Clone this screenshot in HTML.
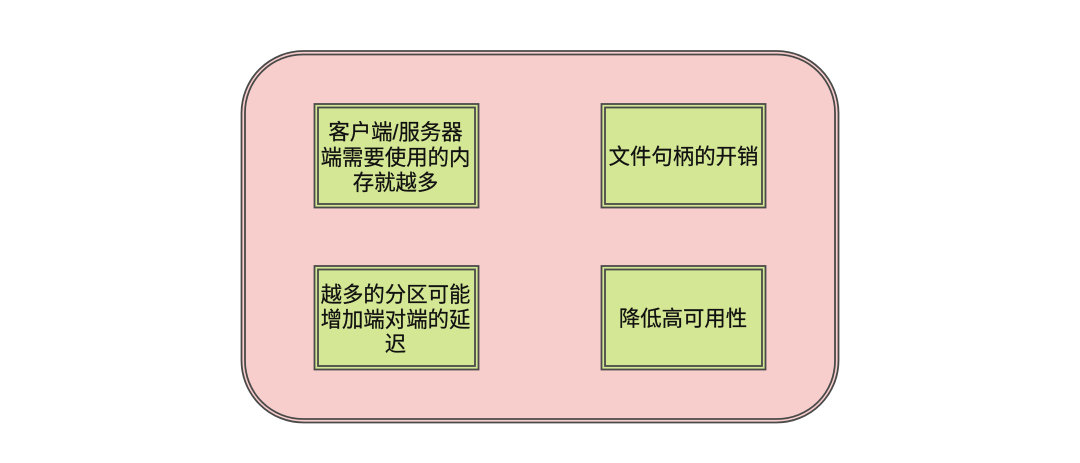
<!DOCTYPE html>
<html><head><meta charset="utf-8"><style>
html,body{margin:0;padding:0;background:#fff}
svg{display:block}
text{font-family:"Liberation Sans","Noto Sans CJK SC",sans-serif;font-size:21.4px;fill:#111;stroke:#111;stroke-width:.25;text-anchor:middle}
.o{fill:#f8cecc;stroke:#4a4a4a;stroke-width:1.8}
.i{fill:none;stroke:#4a4a4a;stroke-width:1.8}
.b{fill:#d4e795;stroke:#4a4a4a;stroke-width:1.8}
</style></head><body>
<svg width="1080" height="463" viewBox="0 0 1080 463" xmlns="http://www.w3.org/2000/svg">
<rect class="o" x="241.5" y="51" width="597" height="371.500" rx="62" ry="62"/>
<rect class="i" x="245" y="54.500" width="590" height="364.500" rx="58" ry="58"/>
<rect class="b" x="314.5" y="104" width="164" height="103.500"/>
<rect class="i" x="318" y="107.500" width="157" height="96.500"/>
<text x="395.500" y="139.500">客户端/服务器</text>
<text x="395.500" y="165">端需要使用的内</text>
<text x="395.500" y="190">存就越多</text>
<rect class="b" x="601.500" y="104" width="164" height="103.500"/>
<rect class="i" x="605" y="107.500" width="157" height="96.500"/>
<text x="683.500" y="164">文件句柄的开销</text>
<rect class="b" x="314.5" y="266" width="164" height="103.500"/>
<rect class="i" x="318" y="269.500" width="157" height="96.500"/>
<text x="395.500" y="302">越多的分区可能</text>
<text x="395.500" y="327">增加端对端的延</text>
<text x="395.500" y="351.500">迟</text>
<rect class="b" x="601.500" y="266" width="164" height="103.500"/>
<rect class="i" x="605" y="269.500" width="157" height="96.500"/>
<text x="683" y="326">降低高可用性</text>
</svg>
</body></html>
